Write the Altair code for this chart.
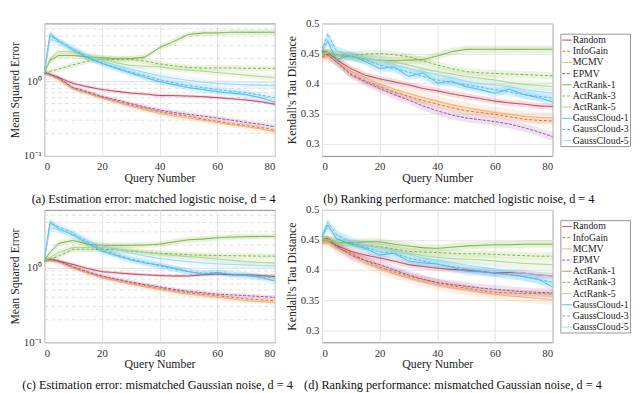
import altair as alt
import pandas as pd

# ---------------- data ----------------
Q = [0, 2, 5, 10, 15, 20, 25, 30, 35, 40, 45, 50, 55, 60, 65, 70, 75, 80]

METHODS = ["Random", "InfoGain", "MCMV", "EPMV", "ActRank-1", "ActRank-3",
           "ActRank-5", "GaussCloud-1", "GaussCloud-3", "GaussCloud-5"]
COLORS = ["#c0304f", "#e0702f", "#f0a860", "#9b4fa6", "#6fa82c", "#7fb53c",
          "#a6cf7a", "#3cb3ea", "#4dbeee", "#8fd3f3"]
DASHES = [[1, 0], [3, 2], [1, 0], [3, 1.5], [1, 0], [3, 2],
          [1, 0], [1, 0], [3, 2], [1, 0]]
LINE_W = [1, 1, 1.2, 1, 1, 1, 1.2, 1, 1, 1.2]
LEG_W = [1, 1, 3.5, 1, 1, 1, 3.5, 1, 1, 3.5]
LEG_OP = [1, 1, 0.45, 1, 1, 1, 0.45, 1, 1, 0.45]

# band half-widths (multiplicative for MSE, additive for tau)
SPREAD_MSE = [1.05, 1.06, 1.08, 1.07, 1.09, 1.09, 1.10, 1.10, 1.10, 1.12]
SPREAD_TAU = [0.005, 0.006, 0.009, 0.007, 0.006, 0.006, 0.008, 0.007, 0.007, 0.008]

# (a) MSE, matched logistic noise
A_RANDOM = [1.30, 1.22, 1.12, 0.93, 0.84, 0.77, 0.73, 0.69, 0.67, 0.64, 0.64, 0.63, 0.62, 0.60, 0.58, 0.56, 0.53, 0.49]
A_INFOGAIN = [1.30, 1.22, 1.08, 0.80, 0.70, 0.61, 0.54, 0.48, 0.43, 0.39, 0.36, 0.34, 0.31, 0.29, 0.27, 0.255, 0.24, 0.22]
A_MCMV = [1.28, 1.20, 1.05, 0.78, 0.68, 0.59, 0.52, 0.46, 0.41, 0.37, 0.34, 0.32, 0.30, 0.28, 0.26, 0.245, 0.23, 0.21]
A_EPMV = [1.30, 1.23, 1.10, 0.82, 0.72, 0.62, 0.56, 0.50, 0.45, 0.41, 0.38, 0.36, 0.34, 0.32, 0.30, 0.28, 0.265, 0.245]
A_ACT1 = [1.30, 1.9, 2.2, 2.2, 2.1, 2.05, 2.0, 2.0, 2.1, 2.8, 3.4, 4.2, 4.4, 4.4, 4.5, 4.5, 4.5, 4.5]
A_ACT3 = [1.30, 1.35, 1.45, 1.65, 1.85, 1.95, 1.95, 1.95, 1.85, 1.70, 1.60, 1.52, 1.50, 1.50, 1.50, 1.48, 1.48, 1.48]
A_ACT5 = [1.30, 2.0, 2.5, 2.45, 2.2, 2.0, 1.75, 1.62, 1.58, 1.55, 1.45, 1.40, 1.36, 1.30, 1.25, 1.20, 1.15, 1.12]
A_GC1 = [1.30, 4.3, 3.4, 2.6, 2.05, 1.72, 1.48, 1.28, 1.12, 0.98, 0.90, 0.82, 0.77, 0.72, 0.69, 0.66, 0.60, 0.52]
A_GC3 = [1.30, 4.0, 3.5, 2.7, 2.1, 1.75, 1.52, 1.32, 1.18, 1.04, 0.95, 0.87, 0.82, 0.77, 0.73, 0.70, 0.65, 0.60]
A_GC5 = [1.30, 3.6, 3.3, 2.7, 2.2, 1.85, 1.62, 1.45, 1.30, 1.18, 1.09, 1.02, 0.97, 0.93, 0.91, 0.89, 0.88, 0.86]

# (b) Kendall tau, matched logistic noise
B_RANDOM = [0.453, 0.452, 0.440, 0.425, 0.414, 0.408, 0.403, 0.398, 0.392, 0.388, 0.383, 0.379, 0.375, 0.371, 0.368, 0.366, 0.363, 0.362]
B_INFOGAIN = [0.445, 0.447, 0.437, 0.416, 0.405, 0.395, 0.386, 0.379, 0.372, 0.366, 0.360, 0.355, 0.352, 0.349, 0.345, 0.341, 0.339, 0.338]
B_MCMV = [0.443, 0.445, 0.438, 0.420, 0.410, 0.400, 0.391, 0.384, 0.377, 0.371, 0.365, 0.360, 0.356, 0.352, 0.349, 0.346, 0.344, 0.343]
B_EPMV = [0.450, 0.448, 0.436, 0.415, 0.403, 0.392, 0.382, 0.373, 0.363, 0.355, 0.348, 0.343, 0.340, 0.337, 0.333, 0.327, 0.320, 0.312]
B_ACT1 = [0.450, 0.452, 0.447, 0.445, 0.442, 0.439, 0.438, 0.439, 0.440, 0.446, 0.453, 0.457, 0.457, 0.457, 0.457, 0.457, 0.457, 0.457]
B_ACT3 = [0.450, 0.452, 0.448, 0.447, 0.449, 0.450, 0.448, 0.445, 0.438, 0.431, 0.425, 0.420, 0.418, 0.417, 0.416, 0.415, 0.414, 0.413]
B_ACT5 = [0.450, 0.452, 0.447, 0.445, 0.441, 0.439, 0.436, 0.431, 0.425, 0.420, 0.416, 0.412, 0.409, 0.406, 0.402, 0.399, 0.397, 0.395]
B_GC1 = [0.455, 0.470, 0.440, 0.447, 0.437, 0.425, 0.428, 0.412, 0.418, 0.401, 0.404, 0.395, 0.390, 0.384, 0.391, 0.382, 0.377, 0.370]
B_GC3 = [0.455, 0.483, 0.455, 0.445, 0.440, 0.431, 0.425, 0.420, 0.412, 0.406, 0.402, 0.398, 0.394, 0.390, 0.386, 0.382, 0.379, 0.376]
B_GC5 = [0.455, 0.472, 0.455, 0.447, 0.443, 0.439, 0.432, 0.425, 0.420, 0.415, 0.410, 0.404, 0.400, 0.398, 0.395, 0.390, 0.387, 0.384]

# (c) MSE, mismatched Gaussian noise
C_RANDOM = [1.25, 1.28, 1.22, 1.10, 0.97, 0.88, 0.85, 0.82, 0.80, 0.78, 0.77, 0.77, 0.80, 0.82, 0.80, 0.80, 0.78, 0.76]
C_INFOGAIN = [1.25, 1.27, 1.20, 1.00, 0.86, 0.75, 0.68, 0.62, 0.57, 0.53, 0.49, 0.46, 0.44, 0.42, 0.40, 0.38, 0.37, 0.36]
C_MCMV = [1.24, 1.26, 1.18, 0.98, 0.84, 0.73, 0.66, 0.60, 0.55, 0.51, 0.47, 0.44, 0.42, 0.40, 0.38, 0.36, 0.35, 0.34]
C_EPMV = [1.25, 1.28, 1.22, 1.02, 0.88, 0.77, 0.70, 0.64, 0.59, 0.55, 0.51, 0.48, 0.46, 0.44, 0.43, 0.42, 0.41, 0.40]
C_ACT1 = [1.25, 1.6, 2.1, 2.3, 2.05, 1.98, 1.98, 1.98, 2.0, 2.05, 2.2, 2.35, 2.4, 2.5, 2.55, 2.58, 2.6, 2.6]
C_ACT3 = [1.25, 1.3, 1.42, 1.75, 1.75, 1.75, 1.72, 1.65, 1.60, 1.55, 1.52, 1.48, 1.46, 1.45, 1.44, 1.43, 1.42, 1.42]
C_ACT5 = [1.25, 1.35, 1.60, 1.85, 1.85, 1.85, 1.78, 1.70, 1.60, 1.52, 1.45, 1.40, 1.35, 1.30, 1.25, 1.20, 1.17, 1.15]
C_GC1 = [1.25, 4.1, 3.3, 2.7, 2.1, 1.65, 1.45, 1.26, 1.15, 1.08, 0.98, 0.88, 0.82, 0.85, 0.80, 0.78, 0.74, 0.66]
C_GC3 = [1.25, 3.9, 3.5, 2.9, 2.2, 1.75, 1.50, 1.30, 1.18, 1.05, 0.96, 0.88, 0.84, 0.86, 0.82, 0.80, 0.76, 0.72]
C_GC5 = [1.25, 3.4, 3.2, 2.8, 2.3, 1.95, 1.75, 1.55, 1.42, 1.32, 1.25, 1.20, 1.15, 1.12, 1.10, 1.08, 1.06, 1.05]

# (d) Kendall tau, mismatched Gaussian noise
D_RANDOM = [0.450, 0.452, 0.441, 0.431, 0.425, 0.420, 0.415, 0.409, 0.406, 0.403, 0.401, 0.400, 0.398, 0.395, 0.396, 0.395, 0.392, 0.390]
D_INFOGAIN = [0.448, 0.448, 0.438, 0.428, 0.416, 0.405, 0.397, 0.390, 0.384, 0.379, 0.374, 0.370, 0.366, 0.363, 0.362, 0.361, 0.361, 0.360]
D_MCMV = [0.447, 0.447, 0.437, 0.425, 0.413, 0.402, 0.394, 0.387, 0.381, 0.376, 0.371, 0.367, 0.363, 0.360, 0.357, 0.355, 0.353, 0.351]
D_EPMV = [0.450, 0.450, 0.440, 0.425, 0.416, 0.409, 0.400, 0.392, 0.385, 0.379, 0.376, 0.373, 0.370, 0.368, 0.366, 0.364, 0.363, 0.362]
D_ACT1 = [0.450, 0.451, 0.446, 0.445, 0.447, 0.447, 0.443, 0.440, 0.437, 0.436, 0.438, 0.440, 0.441, 0.442, 0.442, 0.443, 0.443, 0.443]
D_ACT3 = [0.450, 0.450, 0.446, 0.444, 0.441, 0.439, 0.435, 0.431, 0.430, 0.429, 0.428, 0.427, 0.427, 0.426, 0.425, 0.424, 0.423, 0.423]
D_ACT5 = [0.450, 0.450, 0.446, 0.443, 0.440, 0.438, 0.433, 0.428, 0.424, 0.421, 0.419, 0.418, 0.417, 0.415, 0.413, 0.411, 0.410, 0.409]
D_GC1 = [0.455, 0.475, 0.452, 0.443, 0.436, 0.425, 0.428, 0.415, 0.412, 0.410, 0.405, 0.398, 0.397, 0.395, 0.393, 0.389, 0.385, 0.372]
D_GC3 = [0.455, 0.480, 0.460, 0.447, 0.438, 0.430, 0.428, 0.420, 0.415, 0.410, 0.406, 0.402, 0.398, 0.395, 0.392, 0.389, 0.384, 0.380]
D_GC5 = [0.455, 0.470, 0.458, 0.448, 0.441, 0.436, 0.432, 0.426, 0.420, 0.417, 0.413, 0.408, 0.405, 0.402, 0.398, 0.395, 0.392, 0.390]

X_TICKS = [0, 20, 40, 60, 80]
MSE_TICKS = [0.1, 1]
MSE_MINOR = [0.2, 0.3, 0.4, 0.5, 0.6, 0.7, 0.8, 0.9, 2, 3, 4, 5]
TAU_TICKS = [0.3, 0.35, 0.4, 0.45, 0.5]

CAPTIONS = [
    "(a) Estimation error: matched logistic noise, d = 4",
    "(b) Ranking performance: matched logistic noise, d = 4",
    "(c) Estimation error: mismatched Gaussian noise, d = 4",
    "(d) Ranking performance: mismatched Gaussian noise, d = 4",
]

FONT = "Liberation Serif"
W, H = 235, 135

AXIS_STYLE = dict(labelFont=FONT, titleFont=FONT, labelFontSize=11, titleFontSize=12,
                  titleFontWeight="normal", labelFontWeight="normal",
                  labelColor="#333333", titleColor="#222222", domain=False, ticks=False)

color_enc = alt.Color("method:N", scale=alt.Scale(domain=METHODS, range=COLORS), legend=None)
dash_enc = alt.StrokeDash("method:N", scale=alt.Scale(domain=METHODS, range=DASHES), legend=None)
width_enc = alt.StrokeWidth("method:N", scale=alt.Scale(domain=METHODS, range=LINE_W), legend=None)


def build_df(series, kind):
    rows = []
    spreads = SPREAD_MSE if kind == "mse" else SPREAD_TAU
    for m, vals, s in zip(METHODS, series, spreads):
        for q, v in zip(Q, vals):
            if kind == "mse":
                lo, hi = v / s, v * s
            else:
                lo, hi = v - s, v + s
            rows.append({"q": q, "method": m, "v": v, "lo": lo, "hi": hi})
    return pd.DataFrame(rows)


def legend_layers():
    ldf = pd.DataFrame({"method": METHODS, "idx": list(range(len(METHODS)))})
    ys = alt.Scale(domain=[0, 9], range=[17, 119.5], nice=False, zero=False)
    box = alt.Chart(pd.DataFrame({"b": [0]})).mark_rect(
        fill="white", stroke="#8a8a8a", strokeWidth=0.9
    ).encode(x=alt.value(243.5), x2=alt.value(314.5), y=alt.value(11), y2=alt.value(125.5))
    sample = alt.Chart(ldf).mark_rule().encode(
        x=alt.value(245), x2=alt.value(254.5),
        y=alt.Y("idx:Q", scale=ys, axis=None),
        color=color_enc,
        strokeDash=dash_enc,
        strokeWidth=alt.StrokeWidth("method:N", scale=alt.Scale(domain=METHODS, range=LEG_W), legend=None),
        opacity=alt.Opacity("method:N", scale=alt.Scale(domain=METHODS, range=LEG_OP), legend=None),
    )
    text = alt.Chart(ldf).mark_text(align="left", baseline="middle", font=FONT,
                                    fontSize=10, color="#222").encode(
        x=alt.value(255.5),
        y=alt.Y("idx:Q", scale=ys, axis=None),
        text="method:N",
    )
    return [box, sample, text]


def panel(series, kind, caption, dx):
    df = build_df(series, kind)
    xs = alt.Scale(domain=[0, 80], nice=False)
    xaxis = alt.Axis(values=X_TICKS, title="Query Number", grid=True,
                     gridColor="#e4e4e4", labelPadding=5, titlePadding=1, **AXIS_STYLE)
    if kind == "mse":
        ys = alt.Scale(type="log", domain=[0.1, 5.9], nice=False)
        yaxis = alt.Axis(values=MSE_TICKS, title="Mean Squared Error", grid=True,
                         gridColor="#dddddd",
                         labelExpr="datum.value < 0.5 ? '10⁻¹' : '10⁰'",
                         labelPadding=3, titlePadding=2, **AXIS_STYLE)
    else:
        ys = alt.Scale(domain=[0.28, 0.5], nice=False, zero=False)
        yaxis = alt.Axis(values=TAU_TICKS, title="Kendall's Tau Distance", grid=True,
                         gridColor="#e4e4e4", format="~g", labelPadding=3, titlePadding=2,
                         **AXIS_STYLE)

    layers = []
    if kind == "mse":
        gdf = pd.DataFrame({"g": MSE_MINOR})
        layers.append(
            alt.Chart(gdf).mark_rule(color="#d8d8d8", strokeDash=[4, 3], strokeWidth=0.8)
            .encode(y=alt.Y("g:Q", scale=ys, axis=yaxis))
        )
    band = alt.Chart(df).mark_area(opacity=0.17).encode(
        x=alt.X("q:Q", scale=xs, axis=xaxis),
        y=alt.Y("lo:Q", scale=ys, axis=None if kind == "tau" else yaxis),
        y2="hi:Q",
        color=color_enc,
    )
    line = alt.Chart(df).mark_line().encode(
        x=alt.X("q:Q", scale=xs, axis=xaxis),
        y=alt.Y("v:Q", scale=ys, axis=yaxis),
        color=color_enc,
        strokeDash=dash_enc,
        strokeWidth=width_enc,
    )
    layers += [band, line]
    if kind == "tau":
        layers += legend_layers()
    ch = alt.layer(*layers)
    if kind == "tau":
        ch = ch.resolve_scale(y="independent")
    return ch.properties(
        width=W, height=H,
        title=alt.TitleParams(caption, orient="bottom", anchor="middle", frame="group",
                              font=FONT, fontSize=12.5, fontWeight="normal",
                              color="#111", offset=10, dx=dx),
    )


pa = panel([A_RANDOM, A_INFOGAIN, A_MCMV, A_EPMV, A_ACT1, A_ACT3, A_ACT5, A_GC1, A_GC3, A_GC5], "mse", CAPTIONS[0], -6)
pb = panel([B_RANDOM, B_INFOGAIN, B_MCMV, B_EPMV, B_ACT1, B_ACT3, B_ACT5, B_GC1, B_GC3, B_GC5], "tau", CAPTIONS[1], 22)
pc = panel([C_RANDOM, C_INFOGAIN, C_MCMV, C_EPMV, C_ACT1, C_ACT3, C_ACT5, C_GC1, C_GC3, C_GC5], "mse", CAPTIONS[2], -2)
pd_ = panel([D_RANDOM, D_INFOGAIN, D_MCMV, D_EPMV, D_ACT1, D_ACT3, D_ACT5, D_GC1, D_GC3, D_GC5], "tau", CAPTIONS[3], 16)

chart = alt.concat(pa, pb, pc, pd_, columns=2,
                   spacing={"row": 55, "column": 48}, bounds="flush").properties(
    padding={"left": 0, "top": 5, "right": 0, "bottom": 0},
    background="white",
).configure_view(stroke="#8a8a8a", strokeWidth=1)

chart.save("out.html", embed_options={"renderer": "svg", "actions": False})
